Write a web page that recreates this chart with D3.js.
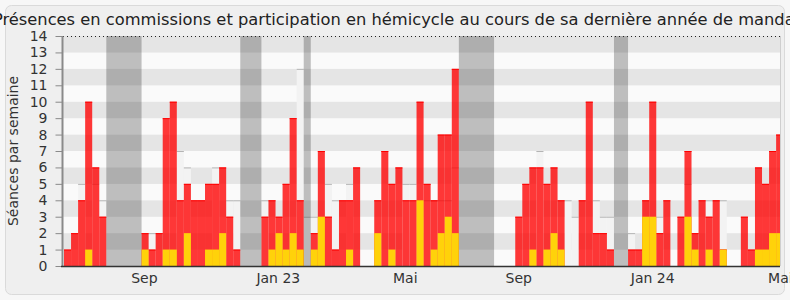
<!DOCTYPE html>
<html>
<head>
<meta charset="utf-8">
<script src="https://cdn.jsdelivr.net/npm/d3@7"></script>
<style>
  html, body { margin: 0; padding: 0; background: #f7f7f7; }
  svg { display: block; font-family: "DejaVu Sans", sans-serif; }
</style>
</head>
<body>
<svg id="chart" width="790" height="300"></svg>
<script>
// ---- data (one entry per week) ----
const presences = [1,2,4,10,6,3,0,0,0,0, 0,2,1,2,9,10,4,5,4,4, 5,5,6,3,1,0,0,0,3,4, 3,5,9,4,0,2,7,3,1,4,
  4,6,0,0,4,7,5,6,4,4, 10,5,4,8,8,12,0,0,0,0, 0,0,0,0,3,5,6,6,5,6, 4,0,0,4,10,2,2,1,0,0,
  1,1,4,10,2,4,0,3,7,2, 4,3,4,1,0,0,3,1,6,5, 7,8];
const commissions = [0,0,0,1,0,0,0,0,0,0, 0,1,0,0,1,1,0,2,0,0, 1,1,2,0,0,0,0,0,0,1, 2,1,2,1,0,1,3,0,0,0,
  1,0,0,0,2,0,1,0,0,0, 4,0,1,2,3,2,0,0,0,0, 0,0,0,0,0,0,1,0,1,2, 1,0,0,0,0,0,0,0,0,0,
  0,0,3,3,0,0,0,0,3,1, 0,1,0,1,0,0,0,0,1,1, 2,2];
const mediane = [0,0,5,0,5,4,0,0,0,0, 0,0,2,0,0,0,7,6,0,0, 0,6,0,4,4,0,0,0,4,0, 0,0,0,12,3,3,0,5,4,0,
  5,0,0,0,0,0,0,0,5,5, 0,4,4,4,4,6,0,0,0,0, 0,0,0,0,0,0,0,7,0,0, 0,4,3,0,0,4,3,3,0,0,
  2,0,0,0,3,0,0,0,5,0, 0,4,4,4,0,0,0,0,0,0, 0,0];
const vacances = [[6,10],[25,27],[34,34],[56,60],[78,79]];
const tickLabels = ["Sep","Jan 23","Mai","Sep","Jan 24","Mai"];
const tickWeeks = [11.4, 30.4, 48.4, 64.5, 83.5, 101.6];
const yTicks = [0,1,2,3,4,5,6,7,8,9,10,11,12,13,14];
const titre = "Présences en commissions et participation en hémicycle au cours de sa dernière année de mandat";
const axeY = "Séances par semaine";

// ---- layout ----
const W = 790, H = 300;
const plotL = 63, plotR = 780, plotT = 36, plotB = 266;
const nWeeks = presences.length;

const svg = d3.select("#chart");
const x = d3.scaleLinear().domain([0, 101.55]).range([64, plotR]);
const y = d3.scaleLinear().domain([0, 14]).range([plotB, plotT]);
const bw = x(1) - x(0);

svg.append("rect").attr("x", 5.5).attr("y", 5.5).attr("width", W - 11).attr("height", H - 11)
  .attr("rx", 6).attr("fill", "#efefef").attr("stroke", "#dadada");

svg.append("clipPath").attr("id", "plotclip").append("rect")
  .attr("x", plotL).attr("y", plotT).attr("width", plotR - plotL).attr("height", plotB - plotT);

const g = svg.append("g").attr("clip-path", "url(#plotclip)");

// stripes
g.selectAll("rect.stripe").data(d3.range(14)).join("rect")
  .attr("x", plotL).attr("width", plotR - plotL)
  .attr("y", d => y(d + 1)).attr("height", d => y(d) - y(d + 1))
  .attr("fill", d => d % 2 === 1 ? "#e5e5e5" : "#fafafa");

const weeks = d3.range(nWeeks);

// median
g.selectAll("rect.med").data(weeks.filter(i => mediane[i] > 0)).join("rect")
  .attr("x", i => x(i)).attr("width", bw)
  .attr("y", i => y(mediane[i])).attr("height", i => y(0) - y(mediane[i]))
  .attr("fill", "#f3f3f3");
g.selectAll("line.med").data(weeks.filter(i => mediane[i] > 0)).join("line")
  .attr("x1", i => x(i)).attr("x2", i => x(i) + bw)
  .attr("y1", i => y(mediane[i]) + 0.5).attr("y2", i => y(mediane[i]) + 0.5)
  .attr("stroke", "#b4b4b4").attr("stroke-width", 1);

// presences (red)
g.selectAll("rect.pres").data(weeks.filter(i => presences[i] > 0)).join("rect")
  .attr("x", i => x(i)).attr("width", bw)
  .attr("y", i => y(presences[i])).attr("height", i => y(0) - y(presences[i]))
  .attr("fill", "rgba(255,0,0,0.78)");
g.selectAll("line.pres").data(weeks.filter(i => presences[i] > 0)).join("line")
  .attr("x1", i => x(i)).attr("x2", i => x(i) + bw)
  .attr("y1", i => y(presences[i]) + 0.5).attr("y2", i => y(presences[i]) + 0.5)
  .attr("stroke", "#ff0000").attr("stroke-width", 1);

// commissions (yellow)
g.selectAll("rect.com").data(weeks.filter(i => commissions[i] > 0)).join("rect")
  .attr("x", i => x(i)).attr("width", bw)
  .attr("y", i => y(commissions[i])).attr("height", i => y(0) - y(commissions[i]))
  .attr("fill", "#ffd20a");

// vacances
g.selectAll("rect.vac").data(vacances).join("rect")
  .attr("x", d => x(d[0])).attr("width", d => x(d[1] + 1) - x(d[0]))
  .attr("y", plotT).attr("height", plotB - plotT)
  .attr("fill", "rgba(0,0,0,0.24)");

// right frame line
svg.append("line").attr("x1", plotR + 0.5).attr("x2", plotR + 0.5).attr("y1", plotT).attr("y2", plotB)
  .attr("stroke", "#cfcfcf");

// top dotted line
svg.append("line").attr("x1", plotL).attr("x2", plotR).attr("y1", plotT + 0.5).attr("y2", plotT + 0.5)
  .attr("stroke", "#222").attr("stroke-dasharray", "1,3");

// y axis
const yAxis = d3.axisLeft(y).tickValues(yTicks).tickSize(7).tickPadding(8).tickFormat(d3.format("d"));
const ya = svg.append("g").attr("transform", `translate(${plotL - 0.5},0)`).call(yAxis);
ya.select(".domain").attr("stroke", "#8a8a8a").attr("stroke-width", 2).attr("d", `M0,${plotT}V${plotB}`);
ya.selectAll(".tick line").attr("stroke", "#8a8a8a");
ya.selectAll(".tick text").attr("fill", "#333").attr("font-size", 14).attr("font-family", "DejaVu Sans");

// x axis
svg.append("line").attr("x1", plotL - 2).attr("x2", plotR).attr("y1", plotB + 0.5).attr("y2", plotB + 0.5)
  .attr("stroke", "#333").attr("stroke-width", 1.5);
svg.selectAll("text.xl").data(tickLabels).join("text")
  .attr("x", (d, i) => x(tickWeeks[i])).attr("y", 283)
  .attr("text-anchor", "middle").attr("font-size", 14).attr("fill", "#333").text(d => d);

// title
svg.append("text").attr("x", 397).attr("y", 25).attr("text-anchor", "middle")
  .attr("font-size", 16.3).attr("fill", "#222").text(titre);

// y label
svg.append("text").attr("transform", `translate(13,151) rotate(-90)`)
  .attr("text-anchor", "middle").attr("dominant-baseline", "central")
  .attr("font-size", 14).attr("fill", "#333").text(axeY);
</script>
</body>
</html>
